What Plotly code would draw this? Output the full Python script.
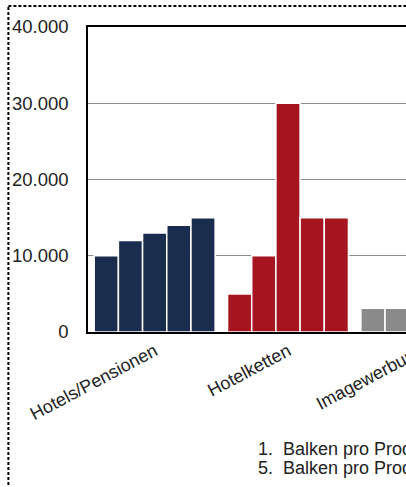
import plotly.graph_objects as go

categories = ["Hotels/Pensionen", "Hotelketten", "Imagewerbung"]
series_names = ["1. Balken pro Produkt", "2. Balken pro Produkt", "3. Balken pro Produkt",
                "4. Balken pro Produkt", "5. Balken pro Produkt"]
# values per series (one value per category); unseen bars left empty
s1 = [10000, 5000, 3100]
s2 = [12000, 10000, 3100]
s3 = [13000, 30000, None]
s4 = [14000, 15000, None]
s5 = [15000, 15000, None]
series_values = [s1, s2, s3, s4, s5]
category_colors = ["#1b2d4e", "#a5141f", "#8a8a8a"]
y_ticks = [0, 10000, 20000, 30000, 40000]
legend_lines = ["1.\u00a0 Balken pro Produkt", "5.\u00a0 Balken pro Produkt"]

FONT = "Liberation Sans, Arial, sans-serif"

fig = go.Figure()
for name, vals in zip(series_names, series_values):
    fig.add_trace(go.Bar(
        x=categories, y=vals, name=name,
        marker=dict(color=category_colors, line=dict(color="white", width=1.5)),
        showlegend=False,
    ))

W, H = 500, 487
L, T = 88, 27
PH = 305
PW = 402
fig.update_layout(
    width=W, height=H,
    margin=dict(l=L, r=W - L - PW, t=T, b=H - T - PH, pad=0),
    paper_bgcolor="white", plot_bgcolor="white",
    barmode="group", bargap=0.093, bargroupgap=0,
    separators=",.",
    font=dict(family=FONT, size=18, color="#222222"),
)
fig.update_xaxes(
    range=[-0.5, 2.5], showgrid=False, showline=True, linecolor="black", linewidth=1.5,
    mirror=True, ticks="", tickangle=-28, layer="below traces",
    tickfont=dict(family=FONT, size=18, color="#222222"),
)
fig.update_yaxes(
    range=[0, 40000], tickvals=y_ticks, tickformat=",d",
    showgrid=True, gridcolor="#8c8c8c", gridwidth=1, zeroline=False,
    showline=True, linecolor="black", linewidth=1.5, mirror=True,
    ticks="", ticklabelstandoff=14, layer="below traces",
    tickfont=dict(family=FONT, size=18.5, color="#222222"),
)

# dashed chart-area border (left and top edges; the rest lies outside the view)
bx0 = (8 - L) / PW
bx1 = (W - 4 - L) / PW
by_top = (T + PH - 6) / PH
by_bot = (T + PH - 520) / PH
border = dict(color="#000000", width=2, dash="3px,2px")
fig.add_shape(type="line", xref="paper", yref="paper", x0=bx0, x1=bx0,
              y0=by_bot, y1=by_top, line=border, layer="above")
fig.add_shape(type="line", xref="paper", yref="paper", x0=bx0, x1=bx1,
              y0=by_top, y1=by_top, line=border, layer="above")

for i, txt in enumerate(legend_lines):
    fig.add_annotation(xref="paper", yref="paper", x=(257 - L) / PW,
                       y=(T + PH - (449 + 19 * i)) / PH,
                       xanchor="left", yanchor="middle", showarrow=False,
                       text=txt, font=dict(family=FONT, size=18, color="#222222"))

fig.write_html("out.html", post_script=(
    "document.body.style.margin='0';document.body.style.overflow='hidden';"
    "document.documentElement.style.overflow='hidden';"))
